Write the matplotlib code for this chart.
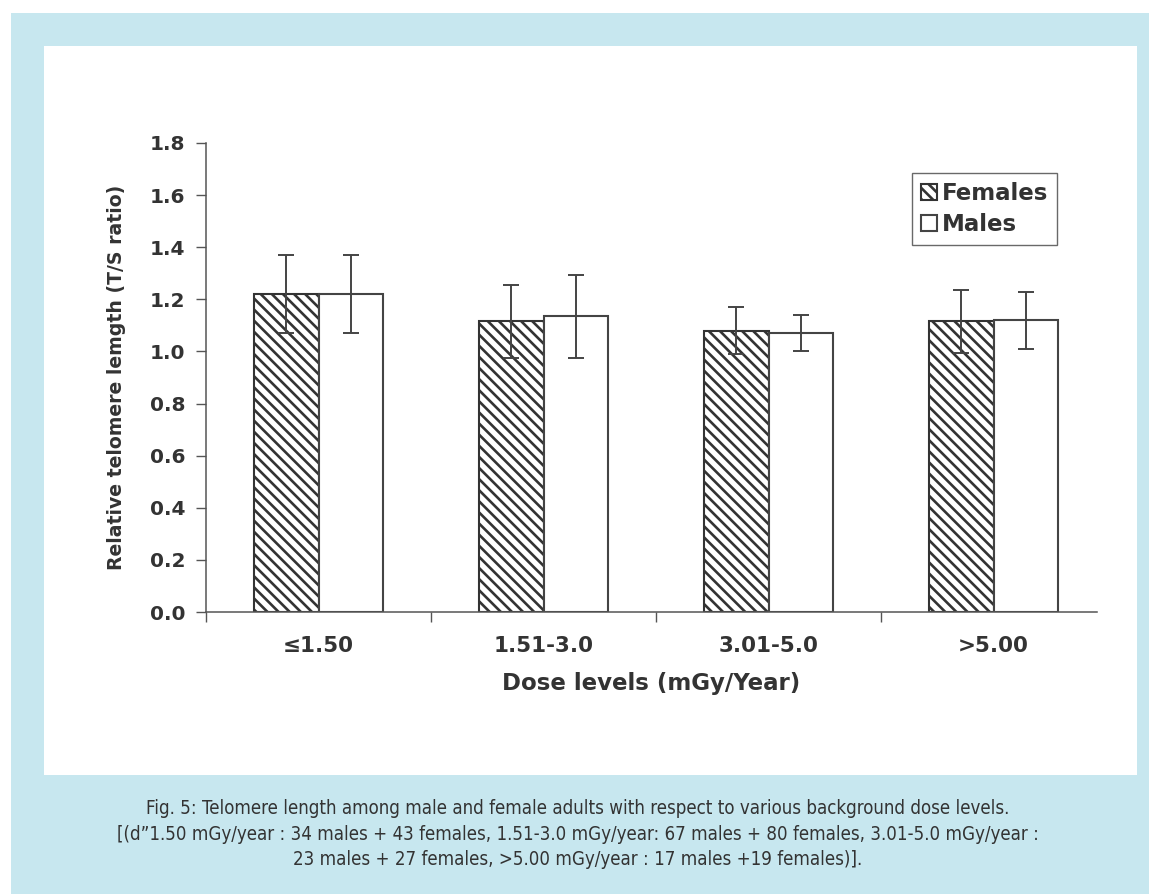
import matplotlib
matplotlib.use('Agg')
import matplotlib.pyplot as plt
import numpy as np
from matplotlib.patches import Rectangle

# Data
categories = ['\u22641.50', '1.51-3.0', '3.01-5.0', '>5.00']
females = [1.22, 1.115, 1.08, 1.115]
females_err = [0.15, 0.14, 0.09, 0.12]
males = [1.22, 1.135, 1.07, 1.12]
males_err = [0.15, 0.16, 0.07, 0.11]

caption = ("Fig. 5: Telomere length among male and female adults with respect to various background dose levels.\n"
           "[(d\u201d1.50 mGy/year : 34 males + 43 females, 1.51-3.0 mGy/year: 67 males + 80 females, 3.01-5.0 mGy/year :\n"
           "23 males + 27 females, >5.00 mGy/year : 17 males +19 females)].")

W, H = 1149, 894
ink = '#333333'
matplotlib.rcParams['font.family'] = ['DejaVu Sans']
matplotlib.rcParams['hatch.linewidth'] = 1.9
matplotlib.rcParams['hatch.color'] = ink

fig = plt.figure(figsize=(W / 100, H / 100), dpi=100, facecolor='white')

# light blue frame and white panel
fig.patches.append(Rectangle((11 / W, 0), 1 - 11 / W, 1 - 13 / H, transform=fig.transFigure,
                             facecolor='#c7e7ef', edgecolor='none', zorder=-2))
fig.patches.append(Rectangle((44 / W, 1 - 775 / H), (1137 - 44) / W, (775 - 46) / H, transform=fig.transFigure,
                             facecolor='white', edgecolor='none', zorder=-1))

ax = fig.add_axes([206 / W, 1 - 612 / H, (1097 - 206) / W, (612 - 143) / H])
ax.set_facecolor('none')
ax.set_zorder(2)

x = np.arange(len(categories))
w = 0.285
ax.bar(x - w / 2, females, w, yerr=females_err, facecolor='white', edgecolor=ink, hatch='\\\\\\',
       linewidth=1.5, error_kw=dict(ecolor='#444444', elinewidth=1.4, capsize=6, capthick=1.4),
       label='Females')
ax.bar(x + w / 2, males, w, yerr=males_err, facecolor='white', edgecolor='#444444',
       linewidth=1.5, error_kw=dict(ecolor='#444444', elinewidth=1.4, capsize=6, capthick=1.4),
       label='Males')

ax.set_xlim(-0.5, 3.46)
ax.set_ylim(0, 1.8)
ax.set_yticks(np.arange(0, 1.81, 0.2))
ax.set_yticklabels(['%.1f' % v for v in np.arange(0, 1.81, 0.2)])
ax.set_xticks(np.arange(-0.5, 3.0, 1.0))
ax.set_xticklabels([])
ax.set_xticks(x, minor=True)
ax.set_xticklabels(categories, minor=True)
ax.tick_params(axis='x', which='minor', length=0, pad=17)
ax.tick_params(axis='x', which='major', length=7, width=1, color='#555555', direction='out')
ax.tick_params(axis='y', length=7, width=1, color='#555555', direction='out', pad=8)
for lab in ax.get_xticklabels(minor=True):
    lab.set_fontsize(15.5)
    lab.set_fontweight('bold')
    lab.set_color(ink)
for lab in ax.get_yticklabels():
    lab.set_fontsize(14.5)
    lab.set_fontweight('bold')
    lab.set_color(ink)

for s in ['top', 'right']:
    ax.spines[s].set_visible(False)
for s in ['left', 'bottom']:
    ax.spines[s].set_color('#555555')
    ax.spines[s].set_linewidth(1.1)

ax.set_ylabel('Relative telomere lemgth (T/S ratio)', fontsize=13.6, fontweight='bold', color=ink, labelpad=17)
ax.set_xlabel('Dose levels (mGy/Year)', fontsize=16.5, fontweight='bold', color=ink, labelpad=12)

leg = ax.legend(loc='upper right', bbox_to_anchor=(1057 / W, 1 - 173 / H), bbox_transform=fig.transFigure,
                borderaxespad=0, fancybox=False, frameon=True, handlelength=0.7, handleheight=0.7,
                handletextpad=0.2, labelspacing=0.35, borderpad=0.4,
                prop={'weight': 'bold', 'size': 16.5})
leg.get_frame().set_edgecolor('#444444')
leg.get_frame().set_linewidth(1.0)
for t in leg.get_texts():
    t.set_color(ink)

fig.text(578 / W, 1 - 834 / H, caption, ha='center', va='center', fontsize=13.4, color=ink,
         linespacing=1.45, family=['DejaVu Sans'], fontstretch='condensed')

fig.savefig('out.png', dpi=100, facecolor=fig.get_facecolor())
plt.close()
